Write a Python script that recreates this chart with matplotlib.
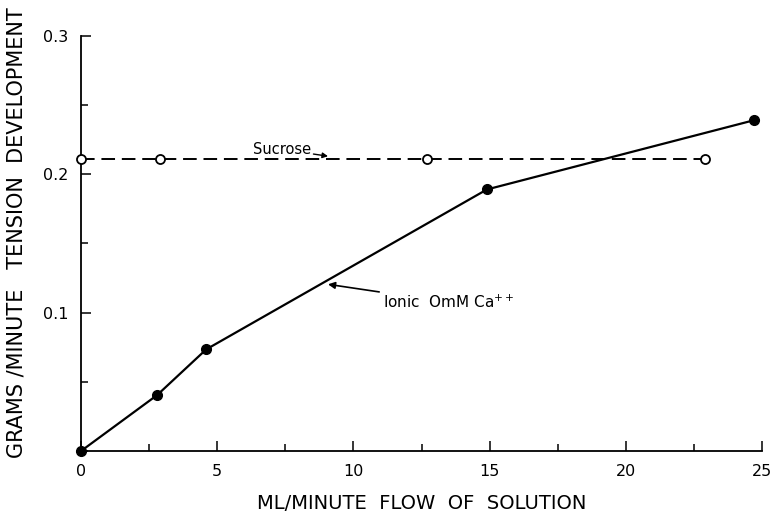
import matplotlib

matplotlib.use("Agg")
import matplotlib.pyplot as plt
from matplotlib.ticker import MultipleLocator

# okunan veriler
flow_ionic = [0.0, 2.8, 4.6, 14.9, 24.7]
tension_ionic = [0.0, 0.0405, 0.0735, 0.189, 0.239]

flow_sucrose = [0.0, 2.9, 12.7, 22.9]
tension_sucrose = [0.211, 0.211, 0.211, 0.211]

x_ticks = [0, 5, 10, 15, 20, 25]
y_ticks = [0.1, 0.2, 0.3]
y_ticklabels = ["0.1", "0.2", "0.3"]

plt.rcParams["font.family"] = ["DejaVu Sans"]

fig = plt.figure(figsize=(7.77, 5.18), dpi=100)
ax = fig.add_axes([0.104, 0.129, 0.877, 0.802])

ax.plot(flow_sucrose, tension_sucrose, color="black", linewidth=1.4,
        linestyle=(0, (7, 3.5)), marker="o", markersize=6.5,
        markerfacecolor="white", markeredgecolor="black", markeredgewidth=1.3,
        clip_on=False, zorder=3)
ax.plot(flow_ionic, tension_ionic, color="black", linewidth=1.6,
        marker="o", markersize=7, markerfacecolor="black",
        markeredgecolor="black", clip_on=False, zorder=4)

ax.set_xlim(0, 25)
ax.set_ylim(0, 0.3)
ax.set_xticks(x_ticks)
ax.set_yticks(y_ticks)
ax.set_yticklabels(y_ticklabels)
ax.xaxis.set_minor_locator(MultipleLocator(2.5))
ax.yaxis.set_minor_locator(MultipleLocator(0.05))
ax.tick_params(which="both", direction="in", width=1.1, labelsize=11.5, pad=9)
ax.tick_params(which="major", length=7)
ax.tick_params(which="minor", length=5)

for side in ("top", "right"):
    ax.spines[side].set_visible(False)
for side in ("left", "bottom"):
    ax.spines[side].set_linewidth(1.3)

ax.set_xlabel("ML/MINUTE  FLOW  OF  SOLUTION", fontsize=14, labelpad=11)
ax.set_ylabel("GRAMS /MINUTE   TENSION  DEVELOPMENT", fontsize=15)
ax.yaxis.set_label_coords(-0.08, 0.525)

ax.annotate("Sucrose", xy=(9.07, 0.213), xytext=(6.3, 0.218),
            fontsize=10.5, va="center", ha="left",
            arrowprops=dict(arrowstyle="-|>", color="black", lw=1.0,
                            mutation_scale=8, shrinkA=0, shrinkB=0))
ax.annotate("Ionic  OmM Ca$^{++}$", xy=(9.07, 0.1205), xytext=(11.1, 0.1075),
            fontsize=11, va="center", ha="left",
            arrowprops=dict(arrowstyle="-|>", color="black", lw=1.2,
                            mutation_scale=10, shrinkA=1, shrinkB=0))

fig.savefig("out.png", dpi=100)
